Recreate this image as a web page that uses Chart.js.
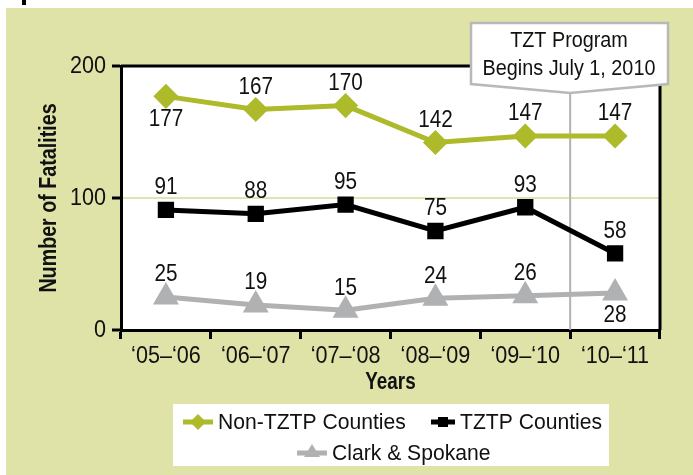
<!DOCTYPE html>
<html>
<head>
<meta charset="utf-8">
<script src="https://cdn.jsdelivr.net/npm/chart.js@4"></script>
<style>
  html, body { margin: 0; padding: 0; background: #fff; }
  #wrap { width: 693px; height: 475px; position: relative; }
</style>
</head>
<body>
<div id="wrap"><canvas id="graficoMortes" width="693" height="475"></canvas></div>
<script>
const anos = ["\u201805\u2013\u201806", "\u201806\u2013\u201807", "\u201807\u2013\u201808", "\u201808\u2013\u201809", "\u201809\u2013\u201810", "\u201810\u2013\u201811"];
const naoTztp = [177, 167, 170, 142, 147, 147];
const tztp = [91, 88, 95, 75, 93, 58];
const clarkSpokane = [25, 19, 15, 24, 26, 28];
const ticksY = [0, 100, 200];

const fonte = "'Liberation Sans', Arial, sans-serif";
const verde = "#adba2a";
const cinza = "#b0b1b3";
const fundo = "#dfe3a7";

// rótulos: acima (-1) ou abaixo (+1) do ponto
const posRotulos = [
    [1, -1, -1, -1, -1, -1],
    [-1, -1, -1, -1, -1, -1],
    [-1, -1, -1, -1, -1, 1],
];

// a fonte do original é uma Helvetica estreita: aperta o texto na horizontal
let fatorTexto = null;
const fillTextOriginal = CanvasRenderingContext2D.prototype.fillText;
CanvasRenderingContext2D.prototype.fillText = function (texto, x, y, maxW) {
    const fator = fatorTexto || (this.font.indexOf("bold") >= 0 ? 0.82 : 0.9);
    const largura = this.measureText(texto).width * fator;
    fillTextOriginal.call(this, texto, x, y, maxW === undefined ? largura : Math.min(maxW, largura));
};

const pluginFundo = {
    id: "fundo",
    beforeDraw(chart) {
        const { ctx, chartArea } = chart;
        ctx.save();
        ctx.fillStyle = "#fff";
        ctx.fillRect(0, 0, chart.width, chart.height);
        ctx.fillStyle = fundo;
        ctx.fillRect(6, 8, chart.width - 6, chart.height - 8);
        ctx.fillStyle = "#000";
        ctx.fillRect(22, 0, 4, 5);
        ctx.fillStyle = "#fff";
        ctx.fillRect(chartArea.left, chartArea.top, chartArea.right - chartArea.left, chartArea.bottom - chartArea.top);
        ctx.restore();
    },
    beforeDatasetsDraw(chart) {
        const { ctx, chartArea, scales } = chart;
        // linha do inicio do programa
        const x = (scales.x.getPixelForValue(4) + scales.x.getPixelForValue(5)) / 2;
        ctx.save();
        ctx.strokeStyle = cinza;
        ctx.lineWidth = 2;
        ctx.beginPath();
        ctx.moveTo(x, 90);
        ctx.lineTo(x, chartArea.bottom);
        ctx.stroke();
        // moldura
        ctx.strokeStyle = "#000";
        ctx.lineWidth = 3;
        ctx.beginPath();
        ctx.moveTo(chartArea.left, chartArea.top);
        ctx.lineTo(chartArea.right, chartArea.top);
        ctx.lineTo(chartArea.right, chartArea.bottom);
        ctx.stroke();
        ctx.restore();
    },
    afterDraw(chart) {
        const { ctx, scales } = chart;
        ctx.save();
        // rótulos de dados
        ctx.fillStyle = "#111";
        ctx.font = "23px " + fonte;
        ctx.textAlign = "center";
        ctx.textBaseline = "middle";
        chart.data.datasets.forEach((ds, i) => {
            const meta = chart.getDatasetMeta(i);
            meta.data.forEach((pt, j) => {
                const lado = posRotulos[i][j];
                const dy = lado < 0 ? -22 : 23;
                ctx.fillText(String(ds.data[j]), pt.x, pt.y + dy);
            });
        });

        // caixa de destaque
        const xm = (scales.x.getPixelForValue(4) + scales.x.getPixelForValue(5)) / 2;
        ctx.fillStyle = "#fff";
        ctx.strokeStyle = "#b8b8b8";
        ctx.lineWidth = 2.5;
        ctx.beginPath();
        ctx.moveTo(471, 23);
        ctx.lineTo(668, 23);
        ctx.lineTo(668, 84);
        ctx.lineTo(xm, 93);
        ctx.lineTo(471, 84);
        ctx.closePath();
        ctx.fill();
        ctx.stroke();
        ctx.fillStyle = "#111";
        ctx.font = "22px " + fonte;
        ctx.fillText("TZT Program", 569, 41);
        ctx.fillText("Begins July 1, 2010", 569, 69);

        // legenda
        ctx.fillStyle = "#fff";
        ctx.fillRect(173, 404, 436, 62);
        const itens = [
            { ds: 0, x: 183, y: 422, comp: 30, forma: "diamante" },
            { ds: 1, x: 431, y: 422, comp: 24, forma: "quadrado" },
            { ds: 2, x: 297, y: 453, comp: 30, forma: "triangulo" },
        ];
        ctx.textAlign = "left";
        ctx.font = "22px " + fonte;
        fatorTexto = 0.96;
        itens.forEach((it) => {
            const ds = chart.data.datasets[it.ds];
            ctx.strokeStyle = ds.borderColor;
            ctx.fillStyle = ds.borderColor;
            ctx.lineWidth = 5;
            ctx.beginPath();
            ctx.moveTo(it.x, it.y);
            ctx.lineTo(it.x + it.comp, it.y);
            ctx.stroke();
            const cx = it.x + it.comp / 2;
            ctx.beginPath();
            if (it.forma === "diamante") {
                ctx.moveTo(cx, it.y - 8);
                ctx.lineTo(cx + 8, it.y);
                ctx.lineTo(cx, it.y + 8);
                ctx.lineTo(cx - 8, it.y);
            } else if (it.forma === "quadrado") {
                ctx.rect(cx - 5, it.y - 5, 10, 10);
            } else {
                ctx.moveTo(cx, it.y - 9);
                ctx.lineTo(cx + 8, it.y + 4);
                ctx.lineTo(cx - 8, it.y + 4);
            }
            ctx.closePath();
            ctx.fill();
            ctx.fillStyle = "#111";
            ctx.fillText(ds.label, it.x + it.comp + 5, it.y + 1);
        });
        fatorTexto = null;
        ctx.restore();
    },
};

const canvas = document.getElementById("graficoMortes");
const grafico = new Chart(canvas, {
    type: "line",
    data: {
        labels: anos,
        datasets: [
            {
                label: "Non-TZTP Counties",
                data: naoTztp,
                borderColor: verde,
                backgroundColor: verde,
                borderWidth: 5,
                pointStyle: "rectRot",
                pointRadius: 9,
                pointHoverRadius: 9,
            },
            {
                label: "TZTP Counties",
                data: tztp,
                borderColor: "#000",
                backgroundColor: "#000",
                borderWidth: 5,
                pointStyle: "rect",
                pointRadius: 8,
                pointHoverRadius: 8,
            },
            {
                label: "Clark & Spokane",
                data: clarkSpokane,
                borderColor: cinza,
                backgroundColor: cinza,
                borderWidth: 5,
                pointStyle: "triangle",
                pointRadius: 10,
                pointHoverRadius: 10,
            },
        ],
    },
    options: {
        responsive: false,
        animation: false,
        events: [],
        layout: { padding: { left: 0, top: 66, right: 33, bottom: 0 } },
        plugins: {
            legend: { display: false },
            tooltip: { enabled: false },
        },
        scales: {
            x: {
                offset: true,
                afterFit(scale) { scale.height = 145; },
                grid: {
                    offset: true,
                    drawOnChartArea: false,
                    tickColor: "#000",
                    tickLength: 9,
                    tickWidth: 3,
                },
                border: { color: "#000", width: 3 },
                ticks: {
                    color: "#111",
                    font: { family: fonte, size: 24 },
                    padding: 3,
                    maxRotation: 0,
                    autoSkip: false,
                },
                title: {
                    display: true,
                    text: "Years",
                    color: "#111",
                    font: { family: fonte, size: 23, weight: "bold" },
                    padding: { top: 0, bottom: 79 },
                },
            },
            y: {
                min: 0,
                max: 200,
                afterFit(scale) { scale.width = 121; },
                afterBuildTicks(scale) { scale.ticks = ticksY.map((v) => ({ value: v })); },
                grid: {
                    color: (c) => (c.tick && c.tick.value === 100 ? "#e0e4ad" : "rgba(0,0,0,0)"),
                    lineWidth: 2,
                    tickColor: "#000",
                    tickLength: 9,
                    tickWidth: 3,
                },
                border: { color: "#000", width: 3 },
                ticks: {
                    color: "#111",
                    font: { family: fonte, size: 24 },
                    padding: 6,
                },
                title: {
                    display: true,
                    text: "Number of Fatalities",
                    color: "#111",
                    font: { family: fonte, size: 24, weight: "bold" },
                    padding: { top: 35, bottom: 0 },
                },
            },
        },
    },
    plugins: [pluginFundo],
});
</script>
</body>
</html>
